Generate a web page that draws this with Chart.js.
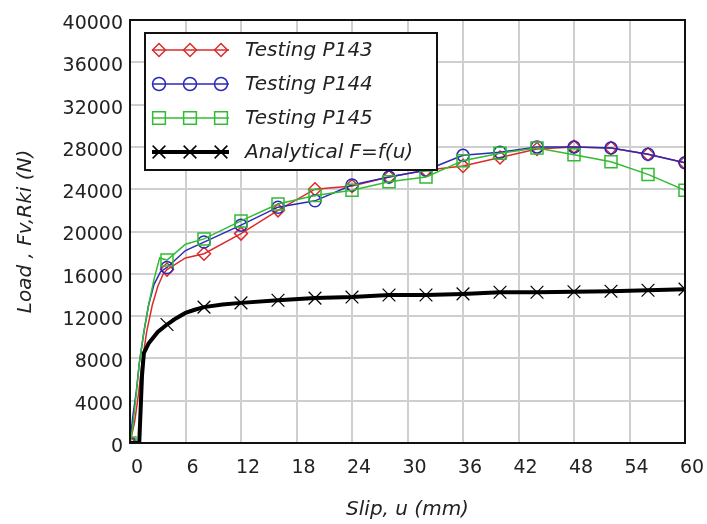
<html>
<head>
    <style>
        body { margin: 0; background: #fff; }
    </style>
    <script src="https://cdn.jsdelivr.net/npm/chart.js@4.4.1/dist/chart.umd.min.js"></script>
    <script>
        // Slip u (mm) and load (N)
        var slipP143 = [0, 0.5, 0.9, 1.3, 1.8, 2.4, 3.0, 3.6, 4, 6, 8, 12, 16, 20, 24, 28, 32, 36, 40, 44, 48, 52, 56, 60];
        var loadP143 = [0, 2000, 4500, 7500, 10500, 13000, 14800, 16000, 16400, 17500, 17900, 19800, 22000, 24000, 24300, 25150, 25800, 26200, 27000, 27800, 28000, 27900, 27300, 26500];

        var slipP144 = [0, 0.3, 0.7, 1.0, 1.5, 2.0, 2.6, 3.3, 4, 6, 8, 12, 16, 20, 24, 28, 32, 36, 40, 44, 48, 52, 56, 60];
        var loadP144 = [0, 2500, 5000, 7500, 10500, 13000, 15000, 16200, 16600, 18200, 19000, 20600, 22300, 22900, 24400, 25150, 25800, 27200, 27500, 28000, 28000, 27900, 27300, 26500];

        var slipP145 = [0, 0.3, 0.6, 1.0, 1.5, 2.0, 2.6, 3.2, 4, 6, 8, 12, 16, 20, 24, 28, 32, 36, 40, 44, 48, 52, 56, 60];
        var loadP145 = [0, 1500, 4000, 7500, 10500, 13000, 15500, 17500, 17300, 18800, 19300, 21000, 22600, 23400, 23900, 24700, 25150, 26700, 27400, 27900, 27250, 26600, 25400, 23900];

        var slipAnalytical = [0, 1.0, 1.3, 1.5, 2, 3, 4, 5, 6, 7, 8, 10, 12, 16, 20, 24, 28, 32, 36, 40, 44, 48, 52, 56, 60];
        var loadAnalytical = [0, 0, 6400, 8500, 9400, 10500, 11200, 11800, 12300, 12600, 12850, 13100, 13250, 13500, 13700, 13800, 14000, 14000, 14100, 14250, 14250, 14300, 14350, 14450, 14550];

        var xTicks = [0, 6, 12, 18, 24, 30, 36, 42, 48, 54, 60];
        var yTicks = [0, 4000, 8000, 12000, 16000, 20000, 24000, 28000, 32000, 36000, 40000];

        var fontFamily = "'DejaVu Sans', sans-serif";

        function toPoints(xs, ys) {
            var pts = [];
            for (var i = 0; i < xs.length; i++) {
                pts.push({ x: xs[i], y: ys[i] });
            }
            return pts;
        }

        // markers only every 4 mm, like the original plot
        function markerSize(r, skipZero) {
            return function(ctx) {
                var p = ctx.raw;
                if (!p) return 0;
                if (skipZero && p.x === 0) return 0;
                return (p.x % 4 === 0) ? r : 0;
            };
        }

        function makeSet(label, xs, ys, color, style, r, width, order, skipZero) {
            return {
                label: label,
                data: toPoints(xs, ys),
                showLine: true,
                borderColor: color,
                backgroundColor: color,
                borderWidth: width,
                tension: 0,
                pointStyle: style,
                pointRadius: markerSize(r, skipZero),
                pointHoverRadius: markerSize(r, skipZero),
                pointBorderColor: color,
                pointBackgroundColor: 'rgba(255,255,255,0)',
                pointBorderWidth: 1.5,
                order: order
            };
        }

        // frame on top/right + boxed legend inside the plot
        var framePlugin = {
            id: 'frameLegend',
            afterDraw: function(chart) {
                var ctx = chart.ctx;
                var a = chart.chartArea;
                ctx.save();
                ctx.strokeStyle = '#111';
                ctx.lineWidth = 2;
                ctx.strokeRect(a.left, a.top, a.right - a.left, a.bottom - a.top);

                var bx = 145, by = 33, bw = 292, bh = 137;
                ctx.fillStyle = '#fff';
                ctx.fillRect(bx, by, bw, bh);
                ctx.strokeRect(bx, by, bw, bh);

                var rows = [50, 84, 118, 152];
                chart.data.datasets.forEach(function(ds, i) {
                    var y = rows[i];
                    ctx.strokeStyle = ds.borderColor;
                    ctx.lineWidth = ds.borderWidth;
                    ctx.beginPath();
                    ctx.moveTo(152, y);
                    ctx.lineTo(229, y);
                    ctx.stroke();
                    var r = ds.legendRadius;
                    [159, 190, 221].forEach(function(mx) {
                        ctx.strokeStyle = ds.borderColor;
                        ctx.fillStyle = 'rgba(255,255,255,0)';
                        ctx.lineWidth = 1.5;
                        Chart.helpers.drawPoint(ctx, { pointStyle: ds.pointStyle, radius: r, rotation: 0, borderWidth: 1.5 }, mx, y);
                    });
                    ctx.fillStyle = '#222';
                    ctx.font = 'italic 20px ' + fontFamily;
                    ctx.textBaseline = 'middle';
                    ctx.textAlign = 'left';
                    ctx.fillText(ds.label, 245, y + 1);
                });
                ctx.restore();
            }
        };

        function plainNumber(v) {
            return String(v);
        }

        function draw_chart() {
            var sets = [
                makeSet('Testing P143', slipP143, loadP143, '#dd2a2a', 'rectRot', 6.5, 1.5, 3, false),
                makeSet('Testing P144', slipP144, loadP144, '#2a2ab8', 'circle', 6, 1.5, 2, false),
                makeSet('Testing P145', slipP145, loadP145, '#33bb33', 'rect', 8.5, 1.5, 1, false),
                makeSet('Analytical F=f(u)', slipAnalytical, loadAnalytical, '#000', 'crossRot', 9, 4, 0, true)
            ];
            sets[0].legendRadius = 6.5;
            sets[1].legendRadius = 6.5;
            sets[2].legendRadius = 9;
            sets[3].legendRadius = 9;
            sets[3].pointBorderWidth = 1.2;

            var ctx = document.getElementById('myChart').getContext('2d');
            new Chart(ctx, {
                type: 'scatter',
                data: { datasets: sets },
                plugins: [framePlugin],
                options: {
                    responsive: false,
                    animation: false,
                    layout: { padding: { top: 20, right: 22, left: 0, bottom: 0 } },
                    plugins: {
                        legend: { display: false },
                        tooltip: { enabled: false }
                    },
                    scales: {
                        x: {
                            type: 'linear',
                            min: 0,
                            max: 60,
                            afterFit: function(s) {
                                s.height = 81;
                                s.paddingLeft = 0;
                                s.paddingRight = 0;
                            },
                            afterBuildTicks: function(s) { s.ticks = xTicks.map(function(v) { return { value: v }; }); },
                            grid: { color: '#cfcfcf', lineWidth: 2, drawTicks: false },
                            border: { color: '#111', width: 2 },
                            ticks: {
                                color: '#222',
                                font: { family: fontFamily, size: 19 },
                                padding: 14,
                                labelOffset: 7,
                                maxRotation: 0,
                                callback: plainNumber
                            },
                            title: {
                                display: true,
                                text: 'Slip, u (mm)',
                                color: '#222',
                                font: { family: fontFamily, size: 20, style: 'italic' },
                                padding: { top: 0, bottom: 2 }
                            }
                        },
                        y: {
                            min: 0,
                            max: 40000,
                            afterFit: function(s) {
                                s.width = 130;
                                s.paddingTop = 0;
                                s.paddingBottom = 0;
                            },
                            afterBuildTicks: function(s) { s.ticks = yTicks.map(function(v) { return { value: v }; }); },
                            grid: { color: '#cfcfcf', lineWidth: 2, drawTicks: false },
                            border: { color: '#111', width: 2 },
                            ticks: {
                                color: '#222',
                                font: { family: fontFamily, size: 19 },
                                padding: 7,
                                labelOffset: 4,
                                callback: plainNumber
                            },
                            title: {
                                display: true,
                                text: 'Load , Fv,Rki (N)',
                                color: '#222',
                                font: { family: fontFamily, size: 20, style: 'italic' },
                                padding: { top: 14, bottom: 0 }
                            }
                        }
                    }
                }
            });
        }
    </script>
</head>
<body>
<canvas id="myChart" width="707" height="524"></canvas>
<script>draw_chart();</script>
</body>
</html>
